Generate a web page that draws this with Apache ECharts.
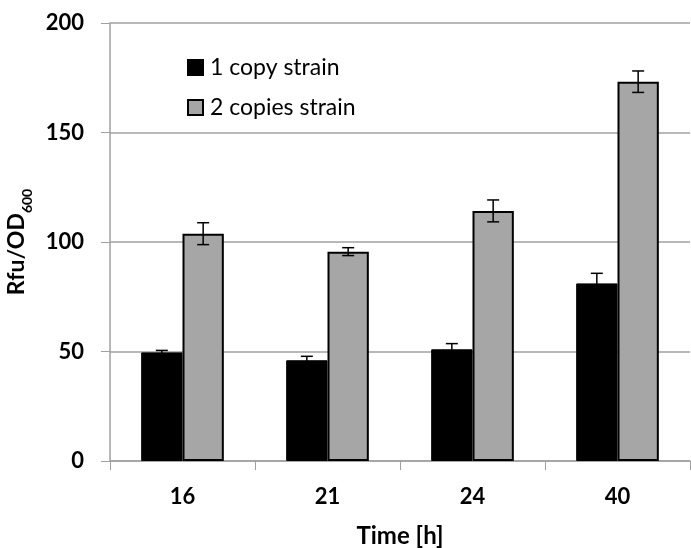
<!DOCTYPE html>
<html>
<head>
<meta charset="utf-8">
<script src="https://cdn.jsdelivr.net/npm/echarts@6/dist/echarts.min.js"></script>
<style>
  html, body { margin: 0; padding: 0; background: #fff; }
  #chart { width: 691px; height: 548px; }
</style>
</head>
<body>
<div id="chart"></div>
<script>
// data
var categories = ['16', '21', '24', '40'];
var oneCopy = [49.6, 46.0, 51.0, 81.1];
var oneCopyErr = [0.9, 1.8, 2.6, 4.6];
var twoCopies = [103.8, 95.6, 114.2, 173.2];
var twoCopiesErr = [5.0, 1.8, 5.0, 4.9];

var catGap = 0.43; // fraction of category left empty

var chart = echarts.init(document.getElementById('chart'));

// error bar drawn centered on the bar of series index sIdx
function errorBars(values, errs, sIdx) {
	return {
		type : 'custom',
		z : 10,
		silent : true,
		data : values.map(function (v, i) { return [i, v - errs[i], v + errs[i]]; }),
		renderItem : function (params, api) {
			var catW = api.size([1, 0])[0];
			var barW = catW * (1 - catGap) / 2;
			var off = (sIdx === 0 ? -0.5 : 0.5) * barW;
			var lo = api.coord([api.value(0), api.value(1)]);
			var hi = api.coord([api.value(0), api.value(2)]);
			var x = lo[0] + off;
			var cap = 6;
			var st = { stroke : '#000', lineWidth : 1.5 };
			return {
				type : 'group',
				children : [
					{ type : 'line', shape : { x1 : x, y1 : lo[1], x2 : x, y2 : hi[1] }, style : st },
					{ type : 'line', shape : { x1 : x - cap, y1 : hi[1], x2 : x + cap, y2 : hi[1] }, style : st },
					{ type : 'line', shape : { x1 : x - cap, y1 : lo[1], x2 : x + cap, y2 : lo[1] }, style : st }
				]
			};
		}
	};
}

var option = {
	animation : false,
	textStyle : { fontFamily : 'Lato' },
	grid : { left : 110, right : 1, top : 23, bottom : 87, outerBoundsMode : 'none', containLabel : false },
	legend : {
		orient : 'vertical',
		left : 182,
		top : 51,
		icon : 'rect',
		itemWidth : 15,
		itemHeight : 15,
		itemGap : 17,
		textStyle : { fontSize : 23, color : '#000', fontFamily : 'Lato', padding : [0, 0, 0, 2] },
		data : ['1 copy strain', '2 copies strain']
	},
	xAxis : {
		type : 'category',
		data : categories,
		name : 'Time [h]',
		nameLocation : 'middle',
		nameGap : 63,
		nameTextStyle : { fontSize : 24, fontWeight : 'bold', color : '#000' },
		axisLine : { lineStyle : { color : '#a0a0a0', width : 1.5 } },
		axisTick : { show : true, length : 9, lineStyle : { color : '#a0a0a0' } },
		axisLabel : { fontSize : 22, fontWeight : 'bold', color : '#000', margin : 25 }
	},
	yAxis : {
		type : 'value',
		min : 0,
		max : 200,
		interval : 50,
		name : '{a|Rfu/OD}{s|600}',
		nameLocation : 'middle',
		nameRotate : 90,
		nameGap : 72,
		nameTextStyle : {
			rich : {
				a : { fontSize : 23, fontWeight : 'bold', color : '#000', lineHeight : 24, verticalAlign : 'top' },
				s : { fontSize : 14, fontWeight : 'bold', color : '#000', lineHeight : 30, verticalAlign : 'bottom' }
			}
		},
		axisLine : { show : true, lineStyle : { color : '#a0a0a0', width : 1.5 } },
		axisTick : { show : true, length : 9, lineStyle : { color : '#a0a0a0' } },
		axisLabel : { fontSize : 22, fontWeight : 'bold', color : '#000', margin : 26 },
		splitLine : { lineStyle : { color : '#a0a0a0', width : 1.5 } }
	},
	series : [
		{
			name : '1 copy strain',
			type : 'bar',
			data : oneCopy,
			barGap : '0%',
			barCategoryGap : (catGap * 100) + '%',
			itemStyle : { color : '#000', borderColor : '#000', borderWidth : 1 }
		},
		{
			name : '2 copies strain',
			type : 'bar',
			data : twoCopies,
			barGap : '0%',
			barCategoryGap : (catGap * 100) + '%',
			itemStyle : { color : '#a6a6a6', borderColor : '#000', borderWidth : 2 }
		},
		errorBars(oneCopy, oneCopyErr, 0),
		errorBars(twoCopies, twoCopiesErr, 1)
	]
};
chart.setOption(option);
</script>
</body>
</html>
